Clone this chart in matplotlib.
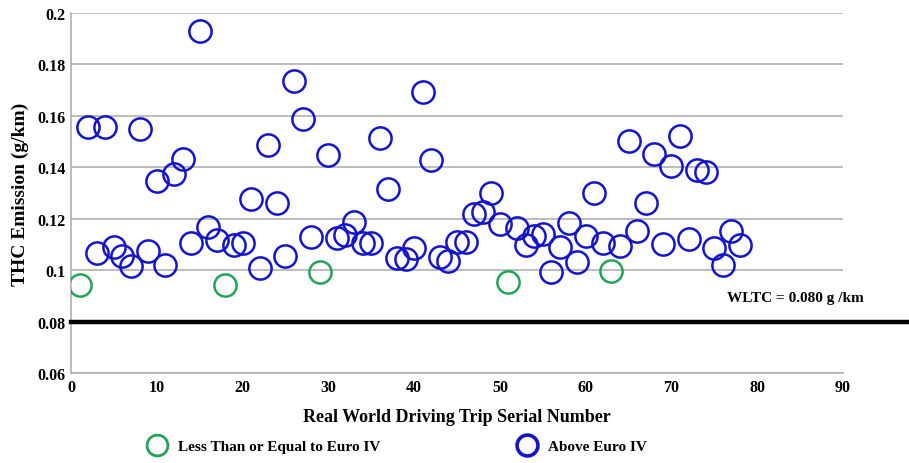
import matplotlib
matplotlib.use("Agg")
import matplotlib.pyplot as plt
from matplotlib.lines import Line2D

plt.rcParams['font.family'] = ['Liberation Serif', 'DejaVu Serif']
plt.rcParams['font.weight'] = 'bold'

# Trips at or below Euro IV
green_x = [1, 18, 29, 51, 63]
green_y = [0.0942, 0.0942, 0.0993, 0.0953, 0.0998]

# Trips above Euro IV
blue_x = [2, 3, 4, 5, 6, 7, 8, 9, 10, 11, 12, 13, 14, 15, 16, 17,
          19, 20, 21, 22, 23, 24, 25, 26, 27, 28,
          30, 31, 32, 33, 34, 35, 36, 37, 38, 39, 40, 41, 42, 43, 44, 45, 46, 47, 48, 49, 50,
          52, 53, 54, 55, 56, 57, 58, 59, 60, 61, 62,
          64, 65, 66, 67, 68, 69, 70, 71, 72, 73, 74, 75, 76, 77, 78]
blue_y = [0.1555, 0.1065, 0.1558, 0.1089, 0.1056, 0.1017, 0.1549, 0.1075, 0.1345, 0.1021,
          0.1374, 0.1432, 0.1105, 0.1931, 0.1169, 0.1118,
          0.1098, 0.1105, 0.1277, 0.1009, 0.1488, 0.1260, 0.1056, 0.1737, 0.1588, 0.1130,
          0.1448, 0.1124, 0.1137, 0.1188, 0.1105, 0.1105, 0.1513, 0.1315, 0.1046, 0.1043,
          0.1085, 0.1694, 0.1428, 0.1052, 0.1037, 0.1108, 0.1108, 0.1218, 0.1225, 0.1299, 0.1179,
          0.1163, 0.1099, 0.1131, 0.1140, 0.0994, 0.1091, 0.1182, 0.1030, 0.1134, 0.1299, 0.1105,
          0.1095, 0.1503, 0.1153, 0.1261, 0.1452, 0.1102, 0.1406, 0.1523, 0.1121, 0.1391,
          0.1383, 0.1085, 0.1021, 0.1151, 0.1098]

wltc_limit = 0.080
wltc_label = 'WLTC = 0.080 g /km'
x_ticks = [0, 10, 20, 30, 40, 50, 60, 70, 80, 90]
y_ticks = [0.06, 0.08, 0.10, 0.12, 0.14, 0.16, 0.18, 0.20]
y_tick_labels = ['0.06', '0.08', '0.1', '0.12', '0.14', '0.16', '0.18', '0.2']

GREEN = '#22a355'
BLUE = '#1414c8'
GRID = '#b0b0b0'

fig = plt.figure(figsize=(9.09, 4.64), dpi=100)
ax = fig.add_axes([71/909, 1-374/464, (843-71)/909, (374-14)/464])

ax.set_xlim(0, 90)
ax.set_ylim(0.06, 0.20)
ax.set_xticks(x_ticks)
ax.set_yticks(y_ticks)
ax.set_yticklabels(y_tick_labels)
ax.tick_params(axis='both', length=0, labelsize=11.5, pad=4)
for lab in ax.get_xticklabels() + ax.get_yticklabels():
    lab.set_fontweight('bold')

ax.yaxis.grid(True, color=GRID, linewidth=1.2)
ax.set_axisbelow(True)
for s in ['top', 'right']:
    ax.spines[s].set_visible(False)
for s in ['left', 'bottom']:
    ax.spines[s].set_color(GRID)
    ax.spines[s].set_linewidth(1.2)

ax.plot(blue_x, blue_y, 'o', ms=16, mfc='none', mec=BLUE, mew=1.8, zorder=3)
ax.plot(green_x, green_y, 'o', ms=16, mfc='none', mec=GREEN, mew=1.8, zorder=3)

ax.axhline(wltc_limit, xmin=0, xmax=(909-71)/(843-71), color='black', lw=3.2,
           clip_on=False, zorder=4)
ax.text(92.4, 0.0895, wltc_label, ha='right', va='center',
        fontsize=11, fontweight='bold', clip_on=False)

ax.set_xlabel('Real World Driving Trip Serial Number', fontsize=13, fontweight='bold',
              labelpad=10)
ax.set_ylabel('THC Emission (g/km)', fontsize=14, fontweight='bold', labelpad=6)

handles = [
    Line2D([], [], ls='none', marker='o', ms=15, mfc='none', mec=GREEN, mew=2.0),
    Line2D([], [], ls='none', marker='o', ms=15, mfc='none', mec=BLUE, mew=2.6),
]
fig.legend(handles, ['Less Than or Equal to Euro IV', 'Above Euro IV'],
           loc='center left', bbox_to_anchor=(147/909, 1-447/464), ncol=2,
           frameon=False, handlelength=1.3, handletextpad=0.75,
           columnspacing=8.9, borderpad=0, borderaxespad=0,
           prop={'family': ['Liberation Serif', 'DejaVu Serif'], 'weight': 'bold', 'size': 11})

fig.savefig('out.png', dpi=100)
